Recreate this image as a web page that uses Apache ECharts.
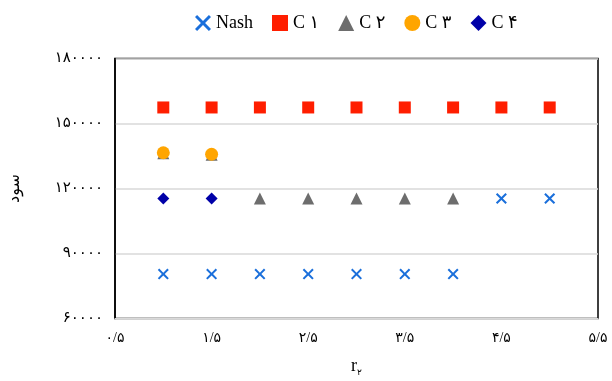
<!DOCTYPE html>
<html><head><meta charset="utf-8">
<script src="https://cdn.jsdelivr.net/npm/echarts@6/dist/echarts.min.js"></script>
<style>html,body{margin:0;padding:0;background:#fff}#c{width:612px;height:381px}</style>
</head><body><div id="c"></div>
<script>
const seriesNames = ['Nash', 'C ۱', 'C ۲', 'C ۳', 'C ۴'];
const nashX = [1, 1.5, 2, 2.5, 3, 3.5, 4, 4.5, 5];
const nashY = [80500, 80500, 80500, 80500, 80500, 80500, 80500, 115400, 115400];
const c1X = [1, 1.5, 2, 2.5, 3, 3.5, 4, 4.5, 5];
const c1Y = [157400, 157400, 157400, 157400, 157400, 157400, 157400, 157400, 157400];
const c2X = [1, 1.5, 2, 2.5, 3, 3.5, 4];
const c2Y = [136300, 135600, 115400, 115400, 115400, 115400, 115400];
const c3X = [1, 1.5];
const c3Y = [136500, 135800];
const c4X = [1, 1.5];
const c4Y = [115400, 115400];
const xTickValues = [0.5, 1.5, 2.5, 3.5, 4.5, 5.5];
const xTickLabels = ['۰/۵', '۱/۵', '۲/۵', '۳/۵', '۴/۵', '۵/۵'];
const yTickValues = [60000, 90000, 120000, 150000, 180000];
const yTickLabels = ['۶۰۰۰۰', '۹۰۰۰۰', '۱۲۰۰۰۰', '۱۵۰۰۰۰', '۱۸۰۰۰۰'];
const yAxisTitle = 'سود';

const crossPath = 'path://M0,1.3 L1.3,0 L5,3.7 L8.7,0 L10,1.3 L6.3,5 L10,8.7 L8.7,10 L5,6.3 L1.3,10 L0,8.7 L3.7,5 Z';
const pair = (xs, ys) => xs.map((x, i) => [x, ys[i]]);
const fontFace = "'Liberation Serif', 'DejaVu Sans', serif";

const chart = echarts.init(document.getElementById('c'), null, {renderer: 'canvas'});
chart.setOption({
  animation: false,
  backgroundColor: '#fff',
  grid: {left: 115, right: 14, top: 58.5, bottom: 62.5, outerBoundsMode: 'none', containLabel: false, show: true, borderColor: '#000', borderWidth: 1.5, backgroundColor: 'transparent'},
  legend: {
    top: 9, left: 190, itemWidth: 16, itemHeight: 16, itemGap: 19,
    textStyle: {fontFamily: fontFace, fontSize: 18, color: '#000'},
    data: [
      {name: seriesNames[0], icon: crossPath, itemStyle: {color: '#1a6fdb'}},
      {name: seriesNames[1], icon: 'rect'},
      {name: seriesNames[2], icon: 'triangle'},
      {name: seriesNames[3], icon: 'circle'},
      {name: seriesNames[4], icon: 'diamond'}
    ]
  },
  xAxis: {
    type: 'value', min: 0.5, max: 5.5, interval: 0.5,
    axisLine: {show: true, lineStyle: {color: '#d9d9d9', width: 1}},
    axisTick: {show: false},
    splitLine: {show: false},
    axisLabel: {
      margin: 13, fontSize: 14, fontFamily: fontFace, color: '#000',
      formatter: v => { const i = xTickValues.findIndex(t => Math.abs(t - v) < 1e-6); return i >= 0 ? xTickLabels[i] : ''; }
    },
    name: '{r|r}{s|۲}', nameLocation: 'middle', nameGap: 36,
    nameTextStyle: {rich: {r: {fontFamily: fontFace, fontSize: 18, color: '#000'}, s: {fontFamily: fontFace, fontSize: 9, color: '#000', padding: [14, 0, 0, 0]}}}
  },
  yAxis: {
    type: 'value', min: 60000, max: 180000, interval: 30000,
    axisLine: {show: true, lineStyle: {color: '#000', width: 1.5}},
    axisTick: {show: false},
    splitLine: {show: true, lineStyle: {color: '#d9d9d9', width: 1.5}},
    axisLabel: {
      margin: 12, fontSize: 15, fontFamily: fontFace, color: '#000',
      formatter: v => { const i = yTickValues.indexOf(v); return i >= 0 ? yTickLabels[i] : ''; }
    },
    name: yAxisTitle, nameLocation: 'middle', nameGap: 92, nameRotate: 90,
    nameTextStyle: {fontFamily: fontFace, fontSize: 16, color: '#000'}
  },
  series: [
    {name: seriesNames[0], type: 'scatter', data: pair(nashX, nashY), symbol: crossPath, symbolSize: 11, itemStyle: {color: '#1a6fdb', opacity: 1}},
    {name: seriesNames[1], type: 'scatter', data: pair(c1X, c1Y), symbol: 'rect', symbolSize: 12, itemStyle: {color: '#ff1e00', opacity: 1}},
    {name: seriesNames[2], type: 'scatter', data: pair(c2X, c2Y), symbol: 'triangle', symbolSize: 12, itemStyle: {color: '#6d6d6d', opacity: 1}},
    {name: seriesNames[3], type: 'scatter', data: pair(c3X, c3Y), symbol: 'circle', symbolSize: 13, itemStyle: {color: '#ffa500', opacity: 1}},
    {name: seriesNames[4], type: 'scatter', data: pair(c4X, c4Y), symbol: 'diamond', symbolSize: 12, itemStyle: {color: '#0000a8', opacity: 1}}
  ]
});
</script></body></html>
